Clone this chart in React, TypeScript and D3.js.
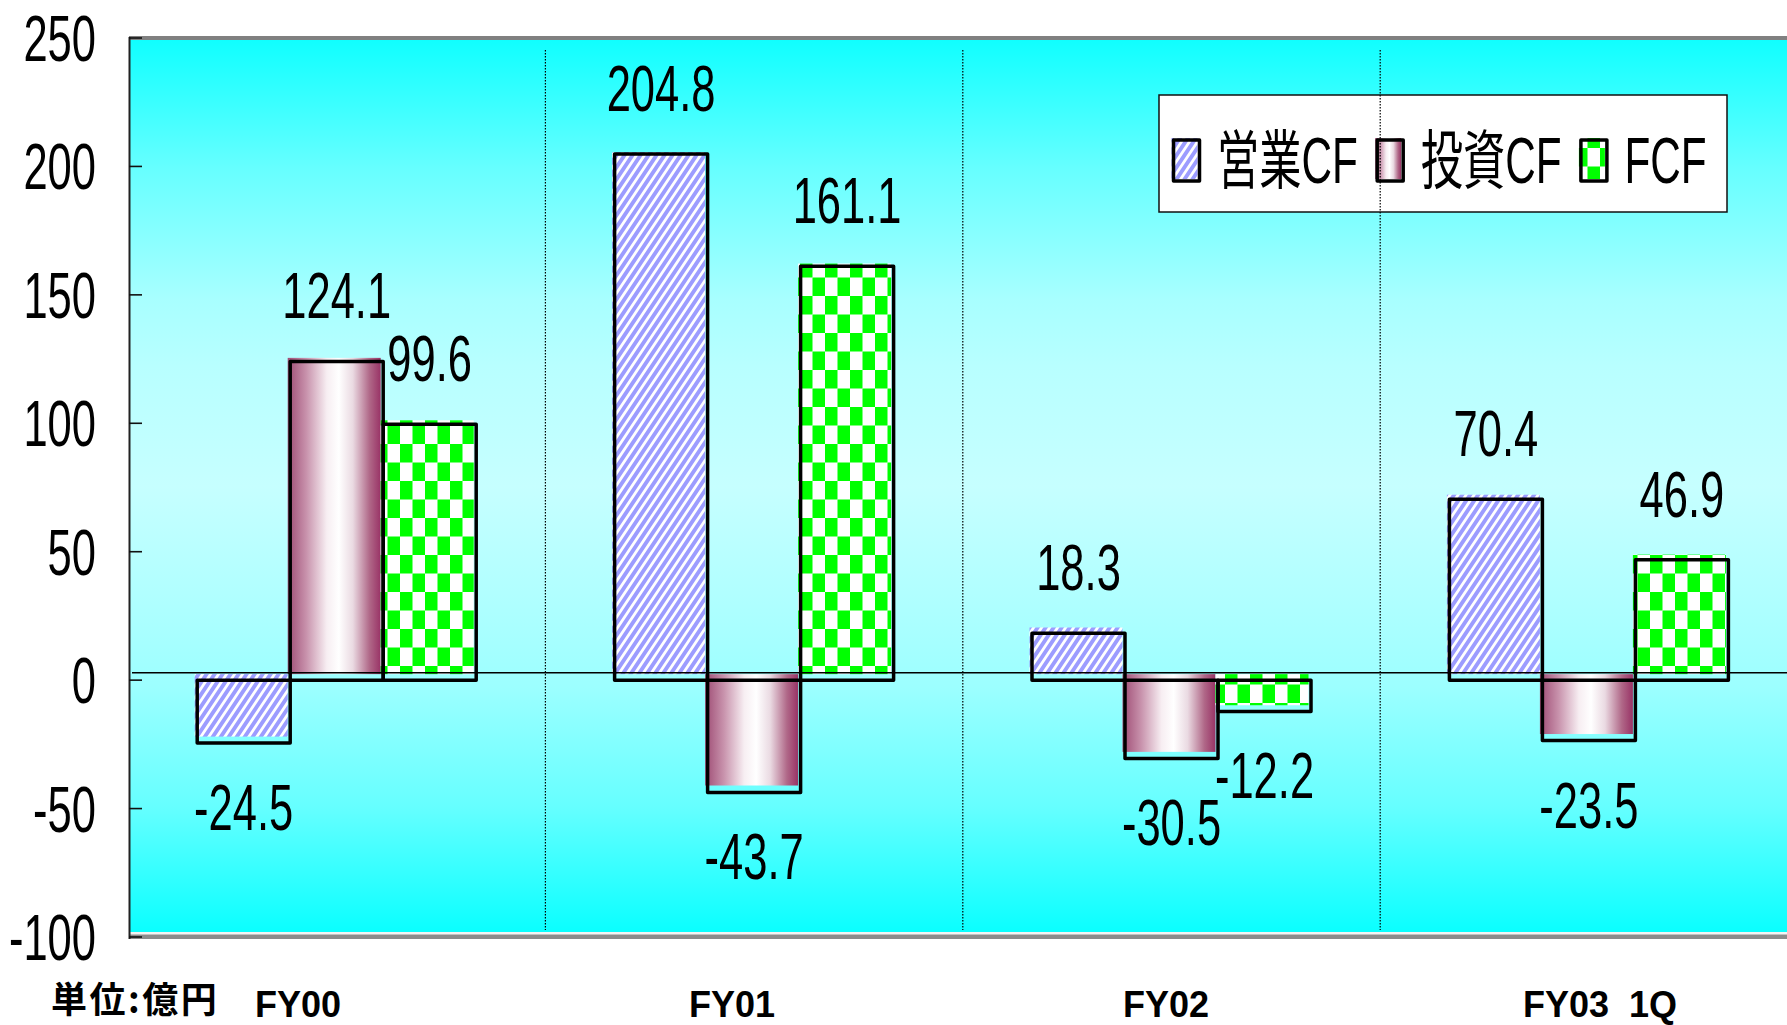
import React from 'react';
import * as d3 from 'd3';

// ---- data ----
const categories = ['FY00', 'FY01', 'FY02', 'FY03  1Q'];
const seriesNames = ['営業CF', '投資CF', 'FCF'];
const operatingCF = [-24.5, 204.8, 18.3, 70.4];
const investingCF = [124.1, -43.7, -30.5, -23.5];
const freeCF = [99.6, 161.1, -12.2, 46.9];
const yTicks = [-100, -50, 0, 50, 100, 150, 200, 250];
const unitLabel = '単位:億円';

const W = 1787;
const H = 1025;
const plotLeft = 129;
const plotTop = 38;
const plotBottom = 937;

const seriesValues = [operatingCF, investingCF, freeCF];
const seriesFills = ['url(#stripe)', 'url(#invGrad)', 'url(#checker)'];

const y = d3.scaleLinear().domain([-100, 250]).range([plotBottom, plotTop]);
const yFill = d3.scaleLinear().domain([-100, 250]).range([929, 37]);
const step = 417.4;
const x0 = d3.scaleBand<string>().domain(categories).range([128, 128 + step * categories.length]);
const groupW = 279;
const x1 = d3.scaleBand<string>().domain(seriesNames).range([0, groupW]);
const xLabel = d3.scalePoint<string>().domain(categories).range([298, 1600]);

const LATIN = "'Liberation Sans', Arial, 'Noto Sans CJK JP', sans-serif";
const CJK = "'Liberation Sans', Arial, 'Noto Sans CJK JP', sans-serif";

function NText({ x, y: ty, anchor = 'middle', size = 64, sx = 0.68, children }: any) {
  return (
    <text
      transform={`translate(${x},${ty}) scale(${sx},1)`}
      textAnchor={anchor}
      fontSize={size}
      fontFamily={LATIN}
      fill="#000"
    >
      {children}
    </text>
  );
}

const bgStops: [number, string][] = [
  [0, '#10FFFF'],
  [0.143, '#66FFFF'],
  [0.291, '#A8FFFF'],
  [0.366, '#B8FFFF'],
  [0.5, '#C6FFFF'],
  [0.625, '#B0FFFF'],
  [0.725, '#9CFFFF'],
  [0.859, '#66FFFF'],
  [1, '#0AFFFF'],
];

export default function App() {
  const bw = x1.bandwidth();
  const groupOffset = (x0.bandwidth() - groupW) / 2;

  const bars: any[] = [];
  categories.forEach((c, ci) => {
    seriesNames.forEach((s, si) => {
      const v = seriesValues[si][ci];
      const bx = (x0(c) as number) + groupOffset + (x1(s) as number);
      bars.push({ c, s, si, v, x: bx, w: bw });
    });
  });

  const legendX0 = 1173.5;
  const legendStep = 203.7;

  return (
    <svg
      width={W}
      height={H}
      style={{ position: 'absolute', left: 0, top: 0, background: '#fff' }}
    >
      <defs>
        <linearGradient id="bgGrad" x1="0" x2="0" y1="0" y2="1">
          {bgStops.map(([o, c], i) => (
            <stop key={i} offset={o} stopColor={c} />
          ))}
        </linearGradient>
        <pattern id="stripe" patternUnits="userSpaceOnUse" width={8} height={12}>
          <rect width={8} height={12} fill="#fff" />
          <path d="M-2,3 L2,-3 M0,12 L8,0 M6,15 L10,9" stroke="#9C9CFF" strokeWidth={3.9} />
        </pattern>
        <pattern id="checker" patternUnits="userSpaceOnUse" width={25} height={37}>
          <rect width={25} height={37} fill="#fff" />
          <rect width={12.5} height={18.5} fill="#00FF00" />
          <rect x={12.5} y={18.5} width={12.5} height={18.5} fill="#00FF00" />
        </pattern>
        <linearGradient id="invGrad" x1="0" x2="1" y1="0" y2="0">
          <stop offset={0} stopColor="#9E4C74" />
          <stop offset={0.2} stopColor="#C892AC" />
          <stop offset={0.42} stopColor="#F7EEF2" />
          <stop offset={0.55} stopColor="#FFFFFF" />
          <stop offset={0.7} stopColor="#EADAE2" />
          <stop offset={0.88} stopColor="#B06888" />
          <stop offset={1} stopColor="#993366" />
        </linearGradient>
      </defs>

      {/* plot background */}
      <rect x={plotLeft + 1} y={40} width={W - plotLeft} height={932 - 40} fill="url(#bgGrad)" />
      {/* frame */}
      <rect x={plotLeft} y={36} width={W - plotLeft} height={4} fill="#808080" />
      <rect x={plotLeft} y={932} width={W - plotLeft} height={2.5} fill="#F4F4F4" />
      <rect x={plotLeft} y={934.5} width={W - plotLeft} height={4.5} fill="#8C8C8C" />
      <line x1={plotLeft + 0.5} x2={plotLeft + 0.5} y1={37} y2={939} stroke="#222" strokeWidth={2} />

      {/* ticks */}
      {yTicks.map((t) => (
        <line key={t} x1={plotLeft} x2={plotLeft + 13} y1={y(t)} y2={y(t)} stroke="#111" strokeWidth={1.6} />
      ))}
      {yTicks.map((t) => (
        <NText key={t} x={96} y={y(t) + 23} anchor="end">
          {String(t)}
        </NText>
      ))}

      {/* bar fills */}
      {bars.map((b, i) => {
        const top = Math.min(yFill(b.v), yFill(0));
        const h = Math.abs(yFill(b.v) - yFill(0));
        return (
          <rect key={'f' + i} x={b.x - 2.5} y={top} width={b.w} height={h} fill={seriesFills[b.si]} />
        );
      })}

      {/* zero line */}
      <line x1={plotLeft + 3} x2={W} y1={yFill(0) - 1.5} y2={yFill(0) - 1.5} stroke="#000" strokeWidth={1.5} />

      {/* bar outlines */}
      {bars.map((b, i) => {
        const top = Math.min(y(b.v), y(0));
        const h = Math.abs(y(b.v) - y(0));
        return (
          <rect
            key={'o' + i}
            x={b.x}
            y={top}
            width={b.w}
            height={h}
            fill="none"
            stroke="#000"
            strokeWidth={3.5}
            strokeLinejoin="round"
          />
        );
      })}

      {/* value labels */}
      {bars.map((b, i) => {
        const cx = b.x + b.w / 2;
        const ty = b.v >= 0 ? y(b.v) - 43 : y(b.v) + 87;
        return (
          <NText key={'l' + i} x={cx} y={ty}>
            {b.v.toFixed(1)}
          </NText>
        );
      })}

      {/* legend */}
      <rect x={1159} y={95} width={568} height={117} fill="#fff" stroke="#111" strokeWidth={1.5} />
      {seriesNames.map((s, i) => {
        const lx = legendX0 + i * legendStep;
        return (
          <g key={s}>
            <rect x={lx - 2} y={138} width={26} height={41} fill={seriesFills[i]} />
            <rect x={lx} y={140} width={26} height={41} fill="none" stroke="#000" strokeWidth={3.5} strokeLinejoin="round" />
            <text
              transform={`translate(${lx + 43.5},183) scale(0.66,1)`}
              fontSize={64}
              fontFamily={CJK}
              fill="#000"
            >
              {s}
            </text>
          </g>
        );
      })}

      {/* category separators (drawn above legend, as in the reference) */}
      {categories.slice(0, -1).map((c) => {
        const sx = (x0(c) as number) + x0.bandwidth();
        return (
          <line
            key={'sep' + c}
            x1={sx}
            x2={sx}
            y1={50}
            y2={930}
            stroke="#000"
            strokeWidth={1.2}
            strokeDasharray="1.5,1.5"
          />
        );
      })}

      {/* bottom labels */}
      <text
        x={51}
        y={1013}
        fontSize={36}
        fontWeight="bold"
        letterSpacing={2.5}
        fontFamily="'Noto Sans CJK JP', sans-serif"
        fill="#000"
      >
        {unitLabel}
      </text>
      {categories.map((c) => (
        <text
          key={'cat' + c}
          x={xLabel(c)}
          y={1017}
          textAnchor="middle"
          fontSize={36}
          fontWeight="bold"
          fontFamily={LATIN}
          fill="#000"
          style={{ whiteSpace: 'pre' }}
        >
          {c}
        </text>
      ))}
    </svg>
  );
}
